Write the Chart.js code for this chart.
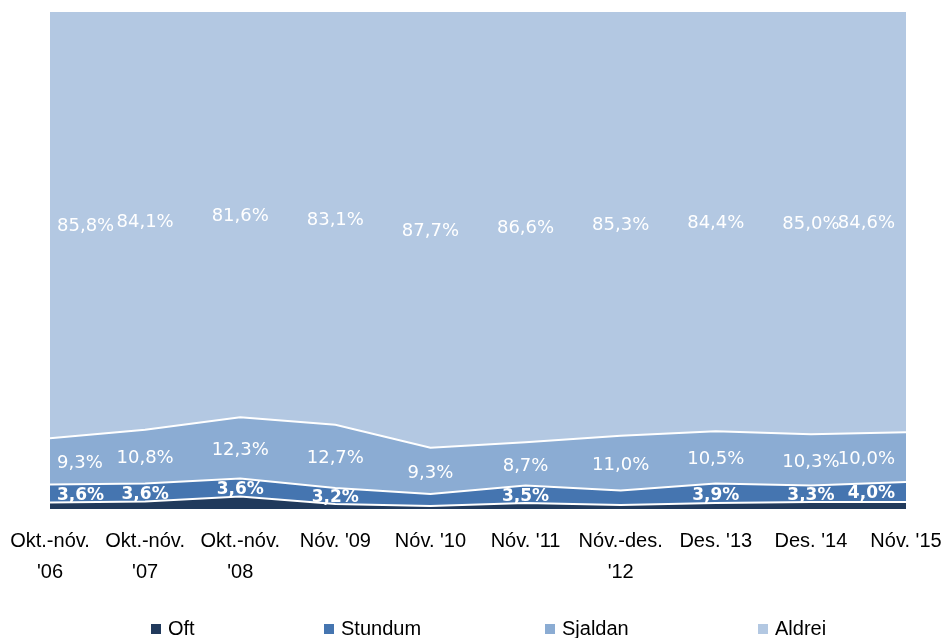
<!DOCTYPE html>
<html>
<head>
<meta charset="utf-8">
<script src="https://cdn.jsdelivr.net/npm/chart.js@4/dist/chart.umd.min.js"></script>
<style>
    body { margin: 0; background: #fff; }
    #wrap { position: relative; width: 942px; height: 638px; }
    #legend { position: absolute; left: 0; top: 617px; width: 942px; height: 21px;
              font-family: "Liberation Sans", sans-serif; font-size: 20px; color: #000; }
    #legend .item { position: absolute; top: 0; display: flex; align-items: center; white-space: nowrap; }
    #legend .box { width: 10px; height: 10px; margin-right: 7px; }
</style>
</head>
<body>
<div id="wrap">
    <canvas id="chart" width="942" height="638"></canvas>
    <div id="legend"></div>
</div>
<script>
const categories = [
    ['Okt.-nóv.', "'06"], ['Okt.-nóv.', "'07"], ['Okt.-nóv.', "'08"], "Nóv. '09", "Nóv. '10",
    "Nóv. '11", ['Nóv.-des.', "'12"], "Des. '13", "Des. '14", "Nóv. '15"
];
const seriesNames = ['Oft', 'Stundum', 'Sjaldan', 'Aldrei'];
const oft = [1.3, 1.5, 2.5, 1.0, 0.6, 1.2, 0.8, 1.2, 1.4, 1.4];
const stundum = [3.6, 3.6, 3.6, 3.2, 2.4, 3.5, 2.9, 3.9, 3.3, 4.0];
const sjaldan = [9.3, 10.8, 12.3, 12.7, 9.3, 8.7, 11.0, 10.5, 10.3, 10.0];
const aldrei = [85.8, 84.1, 81.6, 83.1, 87.7, 86.6, 85.3, 84.4, 85.0, 84.6];
// which points carry a value label (Oft has none, Stundum skips two)
const showLabels = [
    [false, false, false, false, false, false, false, false, false, false],
    [true, true, true, true, false, true, false, true, true, true],
    [true, true, true, true, true, true, true, true, true, true],
    [true, true, true, true, true, true, true, true, true, true]
];
const colors = ['#213A5C', '#4575B0', '#8BACD3', '#B3C8E2'];

const labelFont = '"DejaVu Sans", sans-serif';
const tickFont = '"Liberation Sans", sans-serif';

const areaLabels = {
    id: 'areaLabels',
    afterDatasetsDraw(chart) {
        const ctx = chart.ctx;
        const area = chart.chartArea;
        ctx.save();
        ctx.fillStyle = '#fff';
        ctx.textAlign = 'center';
        ctx.textBaseline = 'middle';
        chart.data.datasets.forEach((ds, i) => {
            const meta = chart.getDatasetMeta(i);
            const below = i > 0 ? chart.getDatasetMeta(i - 1) : null;
            ctx.font = (i === 1 ? 'bold 17px ' : '18px ') + labelFont;
            ds.data.forEach((v, j) => {
                if (!showLabels[i][j]) return;
                const pt = meta.data[j];
                const bottom = below ? below.data[j].y : area.bottom;
                const text = v.toFixed(1).replace('.', ',') + '%';
                const w = ctx.measureText(text).width;
                const x = Math.min(Math.max(pt.x, area.left + 7 + w / 2), area.right - 11 - w / 2);
                ctx.fillText(text, x, (pt.y + bottom) / 2 + 2);
            });
        });
        ctx.restore();
    }
};

const seriesData = [oft, stundum, sjaldan, aldrei];

new Chart(document.getElementById('chart'), {
    type: 'line',
    data: {
        labels: categories,
        datasets: seriesData.map((d, i) => ({
            label: seriesNames[i],
            data: d,
            backgroundColor: colors[i],
            borderColor: '#ffffff',
            borderWidth: 2,
            pointRadius: 0,
            tension: 0,
            fill: i === 0 ? 'origin' : '-1'
        }))
    },
    options: {
        responsive: false,
        animation: false,
        layout: { padding: { left: 50, right: 36, top: 11, bottom: 33 } },
        plugins: {
            legend: { display: false },
            tooltip: { enabled: false }
        },
        scales: {
            x: {
                offset: false,
                grid: { display: false, drawTicks: false },
                border: { display: false },
                afterFit(scale) {
                    scale.paddingLeft = 0;
                    scale.paddingRight = 0;
                },
                ticks: {
                    autoSkip: false,
                    maxRotation: 0,
                    padding: 17,
                    color: '#000',
                    font: { family: tickFont, size: 20, lineHeight: 1.55 }
                }
            },
            y: {
                display: false,
                stacked: true,
                min: 0,
                max: 100
            }
        }
    },
    plugins: [areaLabels]
});

// legend along the bottom
const legendLeft = [151, 324, 545, 758];
const legend = document.getElementById('legend');
seriesNames.forEach((name, i) => {
    const item = document.createElement('div');
    item.className = 'item';
    item.style.left = legendLeft[i] + 'px';
    item.innerHTML = '<span class="box" style="background:' + colors[i] + '"></span><span>' + name + '</span>';
    legend.appendChild(item);
});
</script>
</body>
</html>
